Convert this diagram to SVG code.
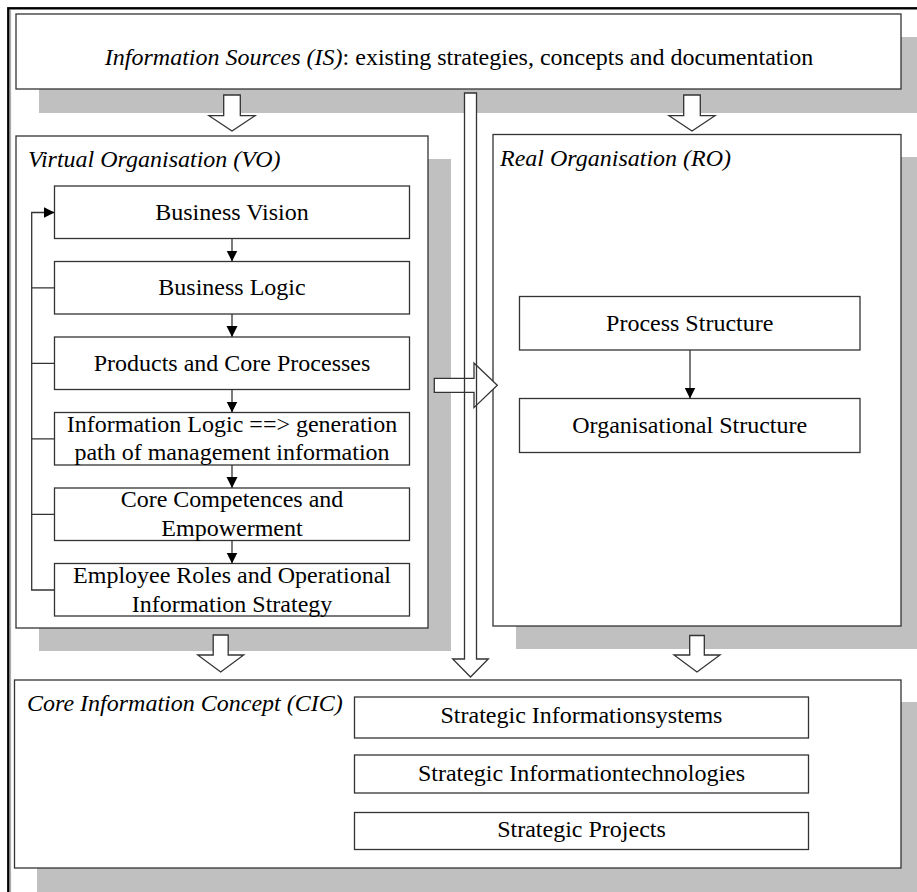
<svg xmlns="http://www.w3.org/2000/svg" width="917" height="892" viewBox="0 0 917 892">
<defs>
<style>
.sh{fill:#c0c0c0;stroke:none}
.bx{fill:#fff;stroke:#333;stroke-width:1.3}
.t{font-family:"Liberation Serif","Times New Roman",serif;font-size:24px;fill:#000}
.c{text-anchor:middle}
.i{font-style:italic}
.ln{fill:none;stroke:#333;stroke-width:1.3}
.ba{fill:#fff;stroke:none}
.bo{fill:none;stroke:#333;stroke-width:1.3;stroke-linejoin:miter}
</style>
<marker id="ah" markerUnits="userSpaceOnUse" markerWidth="12" markerHeight="12" refX="11" refY="5.5" orient="auto">
<path d="M0,0 L11,5.5 L0,11 Z" fill="#000"/>
</marker>
</defs>
<rect x="0" y="0" width="917" height="892" fill="#fff"/>
<rect x="8.3" y="8.3" width="1000" height="1000" fill="none" stroke="#000" stroke-width="2.4"/>
<line x1="10.6" y1="9.5" x2="10.6" y2="892" stroke="#999" stroke-width="0.9"/>

<g id="is">
<rect class="sh" x="39" y="37" width="900" height="76"/>
<rect class="bx" x="16" y="14" width="885" height="75"/>
<text class="t c" x="459" y="65"><tspan class="i">Information Sources (IS)</tspan>: existing strategies, concepts and documentation</text>
</g>

<g id="vo">
<rect class="sh" x="39" y="159" width="412" height="492"/>
<rect class="bx" x="16" y="136" width="412" height="492"/>
<text class="t i" x="28" y="167">Virtual Organisation (VO)</text>
</g>

<g id="ro">
<rect class="sh" x="516" y="157" width="420" height="492"/>
<rect class="bx" x="493" y="134.5" width="408" height="491.5"/>
<text class="t i" x="500" y="166">Real Organisation (RO)</text>
</g>

<g id="cic">
<rect class="sh" x="37" y="702" width="900" height="220"/>
<rect class="bx" x="14.5" y="680" width="886.5" height="188"/>
<text class="t i" x="27" y="711">Core Information Concept (CIC)</text>
</g>

<g id="bv">
<rect class="bx" x="54.5" y="186" width="355" height="52.5"/>
<text class="t c" x="232" y="219.5">Business Vision</text>
</g>
<g id="bl">
<rect class="bx" x="54.5" y="261.5" width="355" height="52.5"/>
<text class="t c" x="232" y="295">Business Logic</text>
</g>
<g id="pcp">
<rect class="bx" x="54.5" y="337" width="355" height="52.5"/>
<text class="t c" x="232" y="370.5">Products and Core Processes</text>
</g>
<g id="il">
<rect class="bx" x="54.5" y="412.5" width="355" height="52.5"/>
<text class="t c" x="232" y="431.5">Information Logic ==&gt; generation</text>
<text class="t c" x="232" y="460">path of management information</text>
</g>
<g id="cc">
<rect class="bx" x="54.5" y="488" width="355" height="52.5"/>
<text class="t c" x="232" y="506.5">Core Competences and</text>
<text class="t c" x="232" y="535.5">Empowerment</text>
</g>
<g id="er">
<rect class="bx" x="54.5" y="563.5" width="355" height="52.5"/>
<text class="t c" x="232" y="582.5">Employee Roles and Operational</text>
<text class="t c" x="232" y="611.5">Information Strategy</text>
</g>

<g id="ps">
<rect class="bx" x="519.5" y="296.5" width="340.5" height="53.5"/>
<text class="t c" x="689.7" y="330.5">Process Structure</text>
</g>
<g id="os">
<rect class="bx" x="519.5" y="398.5" width="340.5" height="54"/>
<text class="t c" x="689.7" y="432.5">Organisational Structure</text>
</g>

<g id="sis">
<rect class="bx" x="354.5" y="697" width="454" height="41"/>
<text class="t c" x="581.5" y="723">Strategic Informationsystems</text>
</g>
<g id="sit">
<rect class="bx" x="354.5" y="755" width="454" height="38"/>
<text class="t c" x="581.5" y="780.5">Strategic Informationtechnologies</text>
</g>
<g id="sp">
<rect class="bx" x="354.5" y="812.5" width="454" height="37"/>
<text class="t c" x="581.5" y="837">Strategic Projects</text>
</g>

<g id="connectors">
<path class="ln" d="M232,238.5 V261.5" marker-end="url(#ah)"/>
<path class="ln" d="M232,314 V337" marker-end="url(#ah)"/>
<path class="ln" d="M232,389.5 V412.5" marker-end="url(#ah)"/>
<path class="ln" d="M232,465 V488" marker-end="url(#ah)"/>
<path class="ln" d="M232,540.5 V563.5" marker-end="url(#ah)"/>
<path class="ln" d="M690,350 V398.5" marker-end="url(#ah)"/>
<path class="ln" d="M54.5,590 H31.7 V212.5 H54.5" marker-end="url(#ah)"/>
<path class="ln" d="M31.7,287.8 H54.5 M31.7,363.3 H54.5 M31.7,438.8 H54.5 M31.7,514.3 H54.5"/>

<path class="ba" d="M223.7,95 L240.3,95 L240.3,115.7 L255,115.7 L232,131 L209,115.7 L223.7,115.7 Z"/>
<path class="bo" d="M223.7,95 L240.3,95 L240.3,115.7 L255,115.7 L232,131 L209,115.7 L223.7,115.7 Z"/>
<path class="ba" d="M683.7,95 L700.3,95 L700.3,115.7 L715,115.7 L692,131 L669,115.7 L683.7,115.7 Z"/>
<path class="bo" d="M683.7,95 L700.3,95 L700.3,115.7 L715,115.7 L692,131 L669,115.7 L683.7,115.7 Z"/>
<path class="ba" d="M213.2,635 L228.2,635 L228.2,655 L243.7,655 L220.7,672 L197.7,655 L213.2,655 Z"/>
<path class="bo" d="M213.2,635 L228.2,635 L228.2,655 L243.7,655 L220.7,672 L197.7,655 L213.2,655 Z"/>
<path class="ba" d="M689.7,635.5 L704.3,635.5 L704.3,655 L720,655 L697,672 L674,655 L689.7,655 Z"/>
<path class="bo" d="M689.7,635.5 L704.3,635.5 L704.3,655 L720,655 L697,672 L674,655 L689.7,655 Z"/>
<path class="ba" d="M464.5,93 L476.5,93 L476.5,659 L488.3,659 L470.5,677 L452.7,659 L464.5,659 Z"/>
<path class="ba" d="M434.3,378.3 L474,378.3 L474,363 L497.3,385.3 L474,407.6 L474,392.3 L434.3,392.3 Z"/>
<path class="bo" d="M464.5,93 L476.5,93 L476.5,659 L488.3,659 L470.5,677 L452.7,659 L464.5,659 Z"/>
<path class="bo" d="M434.3,378.3 L474,378.3 L474,363 L497.3,385.3 L474,407.6 L474,392.3 L434.3,392.3 Z"/>
</g>
</svg>
